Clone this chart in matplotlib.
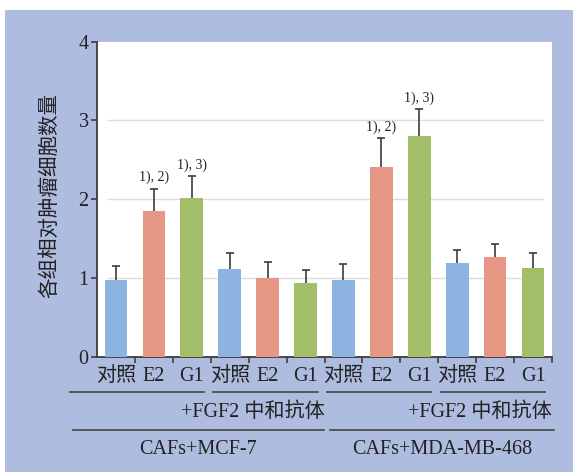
import numpy as np
import matplotlib
matplotlib.use("Agg")
import matplotlib.pyplot as plt
from matplotlib.patches import Rectangle

# data
tick_labels = ["对照", "E2", "G1"] * 4
means = [0.97, 1.85, 2.01, 1.11, 1.00, 0.93, 0.97, 2.41, 2.80, 1.19, 1.26, 1.13]
errs = [0.18, 0.28, 0.28, 0.20, 0.20, 0.17, 0.20, 0.36, 0.34, 0.16, 0.17, 0.18]
marks = {1: "1), 2)", 2: "1), 3)", 7: "1), 2)", 8: "1), 3)"}
sub_groups = ["", "+FGF2 中和抗体", "", "+FGF2 中和抗体"]
cell_lines = ["CAFs+MCF-7", "CAFs+MDA-MB-468"]

COLORS = ["#8DB3E1", "#E69685", "#A3BE68"] * 4
PANEL = "#ADBCDF"
DARK = "#3C3C3C"
FONT = ["Liberation Serif", "Noto Sans CJK SC"]
FS = 14.5

fig = plt.figure(figsize=(5.73, 4.72), dpi=100)
fig.patches.append(Rectangle((5 / 573, 0), 1, 1 - 10 / 472, transform=fig.transFigure,
                             facecolor=PANEL, edgecolor="none", zorder=-5))
ax = fig.add_axes([97 / 573, 1 - 356.6 / 472, 455 / 573, 315 / 472])
ax.set_facecolor("white")

x = np.arange(len(means))
ax.bar(x, means, width=0.6, color=COLORS, zorder=3)
eb = ax.errorbar(x, means, yerr=[np.zeros(len(errs)), errs], fmt="none", ecolor=DARK,
                 elinewidth=1.2, capsize=2.6, capthick=1.2, zorder=4)
# only the upper cap is shown
eb[1][0].set_visible(False)
for i, txt in marks.items():
    ax.text(i, means[i] + errs[i] + 0.06, txt, ha="center", va="bottom",
            fontsize=10, family=FONT, color="#222222")

for yv in [1, 2, 3]:
    ax.axhline(yv, xmin=0.024, xmax=0.98, color="#DCDCDC", lw=1.0, zorder=1)

ax.set_xlim(-0.5, 11.5)
ax.set_ylim(0, 4)
ax.set_yticks([0, 1, 2, 3, 4])
ax.set_xticks(x)
ax.set_xticklabels(tick_labels)
ax.set_xticks(np.arange(0.5, 12, 1), minor=True)
ax.tick_params(axis="x", which="major", length=0, pad=7.5)
ax.tick_params(axis="x", which="minor", length=4, width=1.2, color=DARK, direction="out")
ax.tick_params(axis="y", length=4.5, width=1.2, color=DARK, pad=1.5)
for lab in ax.get_xticklabels() + ax.get_yticklabels():
    lab.set_family(FONT)
    lab.set_fontsize(FS)
    lab.set_color("#222222")

for s in ["top", "right"]:
    ax.spines[s].set_visible(False)
for s in ["left", "bottom"]:
    ax.spines[s].set_color(DARK)
    ax.spines[s].set_linewidth(1.3)

ax.set_ylabel("各组相对肿瘤细胞数量", family=FONT, fontsize=14.8, color="#222222")
ax.yaxis.set_label_coords(-0.081, 0.51)

# group brackets under the axis
trans = ax.get_xaxis_transform()
line_kw = dict(color="#454545", lw=1.2, transform=trans, clip_on=False)
for g in range(4):
    x0 = 3 * g - 0.5 + 0.07
    x1 = 3 * g + 2.5 - 0.18
    if g == 0:
        x0 = -1.21
    ax.plot([x0, x1], [-0.112, -0.112], **line_kw)
    if sub_groups[g]:
        ax.text(3 * g + 2.5, -0.175, sub_groups[g], ha="right", va="center",
                transform=trans, family=FONT, fontsize=FS, color="#222222")

for c, name in enumerate(cell_lines):
    x0 = 6 * c - 0.5 + (0.15 if c else -0.64)
    x1 = 6 * c + 5.5 + (0.06 if c else -0.01)
    ax.plot([x0, x1], [-0.233, -0.233], **line_kw)
    ax.text((x0 + x1) / 2, -0.296, name, ha="center", va="center",
            transform=trans, family=FONT, fontsize=FS, color="#222222")

fig.savefig("out.png", dpi=100)
